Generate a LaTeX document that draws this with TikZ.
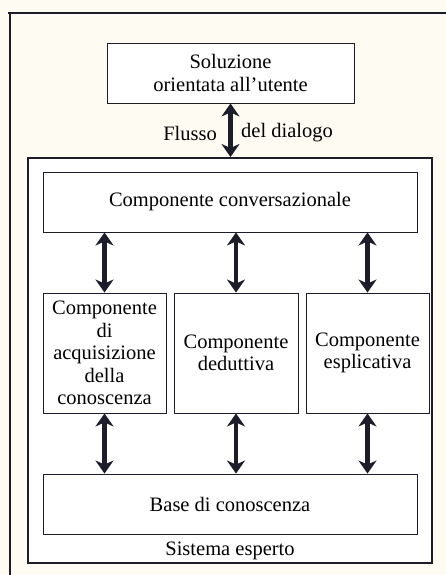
\documentclass[tikz,border=0pt]{standalone}
\usepackage{fontspec}
\setmainfont{Liberation Serif}
\usetikzlibrary{arrows.meta}
\definecolor{paper}{RGB}{254,252,242}
\definecolor{ink}{RGB}{28,28,42}

\tikzset{
 box/.style={draw=ink, line width=0.9pt, fill=white, inner sep=0pt, align=center,
  font=\fontsize{20.5}{22.5}\selectfont},
 txt/.style={inner sep=0pt, font=\fontsize{20.5}{22.5}\selectfont},
 flow/.style={draw=ink, line width=4.5pt,
  {Stealth[length=13pt,width=18pt,inset=4pt]}-{Stealth[length=13pt,width=18pt,inset=4pt]}}
}

\begin{document}
\begin{tikzpicture}[x=1pt,y=-1pt]
\useasboundingbox (0,0) rectangle (446,575);
\fill[paper] (0,0) rectangle (446,575);
% page frame
\draw[ink, line width=1.3pt] (8,13)--(446,13);
\draw[ink, line width=1.3pt] (10,13)--(10,575);

\node[box, minimum width=247pt, minimum height=60pt] (user) at (230.5,73)
 {Soluzione\\orientata all'utente};
\node[box, line width=2pt, minimum width=404pt, minimum height=405pt] (sys) at (230,360.5) {};
\node[box, minimum width=374pt, minimum height=60pt] (conv) at (230,202)
 {Componente conversazionale};
\node[box, minimum width=123pt, minimum height=120pt] (acq) at (104.5,353)
 {Componente\\di\\acquisizione\\della\\conoscenza};
\node[box, minimum width=124pt, minimum height=120pt] (ded) at (236,353)
 {Componente\\deduttiva};
\node[box, minimum width=123pt, minimum height=120pt] (spl) at (367.5,353)
 {Componente\\esplicativa};
\node[box, minimum width=374pt, minimum height=60pt] (base) at (230,504)
 {Base di conoscenza};
\node[txt] (sysname) at (230,551) {Sistema esperto};

% dialogue flow
\draw[flow] (user.south) -- (user.south |- sys.north);
\node[txt, anchor=east] (flusso) at (217,133) {Flusso};
\node[txt, anchor=west] (dialogo) at (241,133) {del dialogo};

\foreach \c in {acq,ded,spl} {
 \draw[flow] (conv.south -| \c.north) -- (\c.north);
 \draw[flow] (\c.south) -- (base.north -| \c.south);
 }
\end{tikzpicture}
\end{document}
